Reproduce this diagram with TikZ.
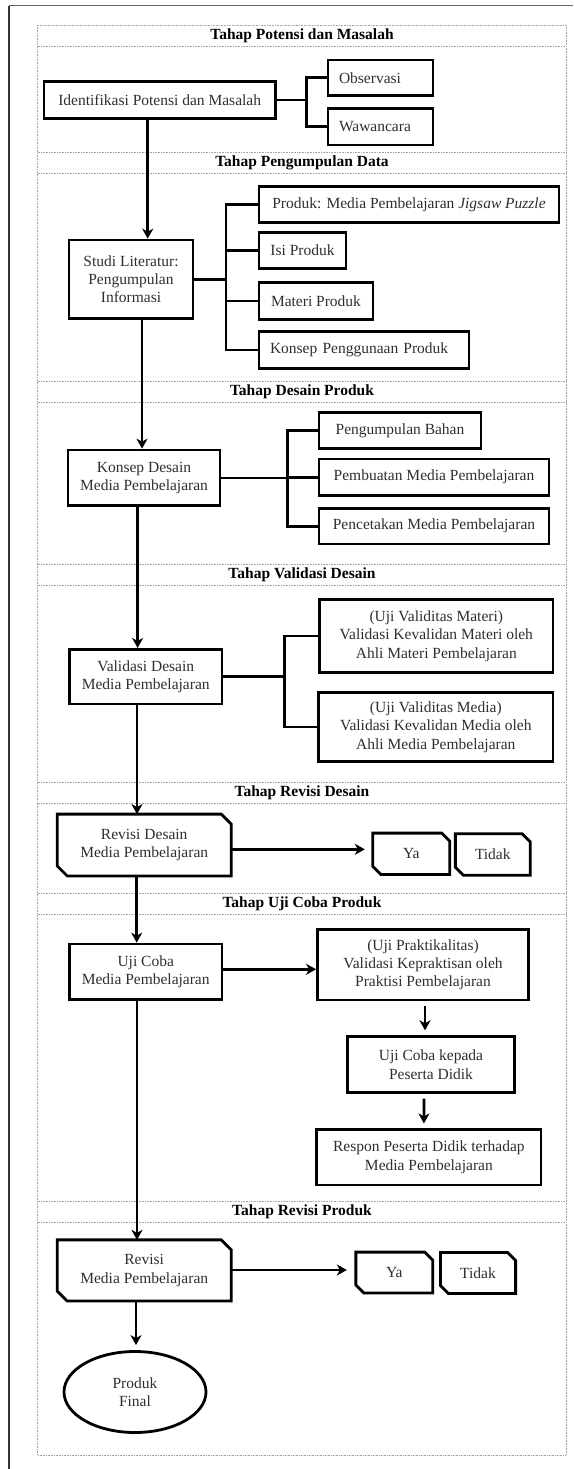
\documentclass[tikz,border=0pt]{standalone}
\usepackage{fontspec}
\setmainfont{Liberation Serif}
\usetikzlibrary{arrows.meta,calc,shapes.geometric}
\newcommand\bodysize{\fontsize{15.5}{18.3}\selectfont}
\newcommand\chamferbox[2]{%
  \draw[boxline] (#1.north west) -- ($(#1.north east)+(-#2,0)$) -- ($(#1.north east)+(0,#2)$)
    -- (#1.south east) -- ($(#1.south west)+(#2,0)$) -- ($(#1.south west)+(0,-#2)$) -- cycle;}
\tikzset{
  boxline/.style={line width=2.8pt, line join=miter},
  box/.style 2 args={draw, boxline, minimum width=#1, minimum height=#2, inner sep=0pt,
    align=center, font=\bodysize, text=black!82},
  leftbox/.style 2 args={draw, boxline, text width=#1-22pt, minimum height=#2, inner xsep=11pt,
    inner ysep=0pt, align=left, font=\bodysize, text=black!82},
  plainbox/.style 2 args={minimum width=#1, minimum height=#2, inner sep=0pt,
    align=center, font=\bodysize, text=black!82},
  conn/.style={line width=2.8pt, line join=miter},
  arr/.style={line width=2.8pt, -{Stealth[length=10pt,width=11pt,inset=3pt]}},
  hdr/.style={font=\bodysize\bfseries, text=black, inner sep=0pt},
  tbl/.style={draw=black!35, line width=0.9pt, dash pattern=on 1pt off 0.6pt},
}
\begin{document}
\begin{tikzpicture}[x=1pt,y=-1pt]
\useasboundingbox (0,0) rectangle (573,1469);
% outer frame
\draw[black!60, line width=1.3pt] (9,5.7) -- (573,5.7);
\draw[black!80, line width=1.2pt] (9,5.7) -- (9,1469);
% dotted table
\draw[tbl] (37.7,25) rectangle (566,1455);
\foreach \y in {46.5,152.5,173.5,381.5,402.5,564,585,782.5,803.5,893.5,914.5,1201,1222}
  \draw[tbl] (37.7,\y) -- (566,\y);
% headers
\node[hdr] (h1) at (302,36) {Tahap Potensi dan Masalah};
\node[hdr] (h2) at (302,163) {Tahap Pengumpulan Data};
\node[hdr] (h3) at (302,392) {Tahap Desain Produk};
\node[hdr] (h4) at (302,574.5) {Tahap Validasi Desain};
\node[hdr] (h5) at (302,793) {Tahap Revisi Desain};
\node[hdr] (h6) at (302,904) {Tahap Uji Coba Produk};
\node[hdr] (h7) at (302,1211.5) {Tahap Revisi Produk};

% stage 1
\node[box={231.5}{36.6}] (ident) at (159.7,100) {Identifikasi Potensi dan Masalah};
\node[leftbox={105}{35.7}] (obs) at (380.5,77.9) {Observasi};
\node[leftbox={105}{36.7}] (waw) at (380.5,126.7) {Wawancara};
\coordinate (b1) at (306.6,100);
\draw[conn] (ident.east) -- (b1);
\draw[conn] (obs.west) -| (b1) |- (waw.west);

% stage 2
\node[box={124}{78.3}] (studi) at (131,279.2) {Studi Literatur:\\Pengumpulan\\Informasi};
\node[box={300}{36}] (prod) at (409,204.7) {Produk: Media Pembelajaran \textit{Jigsaw Puzzle}};
\node[box={87}{35.6}] (isi) at (302.5,250.5) {Isi Produk};
\node[box={114}{36.6}] (materi) at (316,301) {Materi Produk};
\node[leftbox={210}{36.6}] (konsepP) at (364,350) {Konsep Penggunaan Produk};
\coordinate (b2) at (226,279.2);
\draw[conn] (studi.east) -- (b2);
\draw[conn] (prod.west) -| (b2) |- (konsepP.west);
\draw[conn] (isi.west) -- (isi.west -| b2);
\draw[conn] (materi.west) -- (materi.west -| b2);
\coordinate (a1) at ($(ident.south)+(-12,0)$);
\draw[arr] (a1) -- (a1 |- studi.north);

% stage 3
\node[box={152}{55.7}] (konsepD) at (144,477.9) {Konsep Desain\\Media Pembelajaran};
\node[box={162}{36}] (bahan) at (400,430.7) {Pengumpulan Bahan};
\node[box={230}{36.3}] (buat) at (434,477.2) {Pembuatan Media Pembelajaran};
\node[box={230}{35.7}] (cetak) at (434,526.2) {Pencetakan Media Pembelajaran};
\coordinate (b3) at (287.6,477.9);
\draw[conn] (konsepD.east) -- (b3);
\draw[conn] (bahan.west) -| (b3) |- (cetak.west);
\draw[conn] (buat.west) -- (buat.west -| b3);
\coordinate (a2) at ($(studi.south)+(11,0)$);
\draw[arr] (a2) -- (a2 |- konsepD.north);

% stage 4
\node[box={152.7}{54.7}] (valD) at (145.7,676.7) {Validasi Desain\\Media Pembelajaran};
\node[box={233.5}{73.4}] (vMat) at (436.3,636) {(Uji Validitas Materi)\\Validasi Kevalidan Materi oleh\\Ahli Materi Pembelajaran};
\node[box={234.4}{69.4}] (vMed) at (435.8,727) {(Uji Validitas Media)\\Validasi Kevalidan Media oleh\\Ahli Media Pembelajaran};
\coordinate (b4) at (284.7,676.7);
\draw[conn] (valD.east) -- (b4);
\draw[conn] (vMat.west) -| (b4) |- (vMed.west);
\coordinate (a3) at ($(konsepD.south)+(-6.4,0)$);
\draw[arr] (a3) -- (a3 |- valD.north);

% stage 5
\node[plainbox={173.7}{61.4}] (revD) at (144.2,845) {Revisi Desain\\Media Pembelajaran};
\chamferbox{revD}{10}
\node[plainbox={76.6}{41}] (ya1) at (411.3,853.8) {Ya};
\chamferbox{ya1}{8}
\node[plainbox={74.5}{41}] (tidak1) at (492.8,854.5) {Tidak};
\chamferbox{tidak1}{8}
\coordinate (r1) at ($(revD.east)+(0,4.3)$);
\draw[arr] (r1) -- ($(r1 -| ya1.west)+(-8,0)$);
\coordinate (a4) at ($(valD.south)+(-8.7,0)$);
\draw[arr] (a4) -- (a4 |- revD.north);

% stage 6
\node[box={152.7}{55.3}] (uji) at (145.7,971.7) {Uji Coba\\Media Pembelajaran};
\node[box={211}{70.7}] (prakt) at (423,964.7) {(Uji Praktikalitas)\\Validasi Kepraktisan oleh\\Praktisi Pembelajaran};
\node[box={167.2}{56}] (ujiK) at (431,1064.7) {Uji Coba kepada\\Peserta Didik};
\node[box={224.2}{55.7}] (respon) at (428.9,1157.2) {Respon Peserta Didik terhadap\\Media Pembelajaran};
\coordinate (r2) at ($(uji.east)+(0,-2.4)$);
\draw[arr] (r2) -- (r2 -| prakt.west);
\draw[arr] ($(prakt.south)+(2,5)$) -- ($(ujiK.north)+(-6,-5)$);
\draw[arr] ($(ujiK.south)+(-7,4.5)$) -- ($(respon.north)+(-5,-4.5)$);
\coordinate (a5) at ($(revD.south)+(-7.5,0)$);
\draw[arr] (a5) -- (a5 |- uji.north);

% stage 7
\node[plainbox={173.7}{60.7}] (revP) at (144.2,1270.4) {Revisi\\Media Pembelajaran};
\chamferbox{revP}{10}
\node[plainbox={76.5}{40.4}] (ya2) at (394.3,1272.5) {Ya};
\chamferbox{ya2}{8}
\node[plainbox={74.8}{40.6}] (tidak2) at (478,1273) {Tidak};
\chamferbox{tidak2}{8}
\coordinate (r3) at ($(revP.east)+(0,-0.4)$);
\draw[arr] (r3) -- ($(r3 -| ya2.west)+(-9,0)$);
\coordinate (a6) at ($(uji.south)+(-8.7,0)$);
\draw[arr] (a6) -- (a6 |- revP.north);
\node[ellipse, draw, boxline, minimum width=142, minimum height=81, inner sep=0pt,
  align=center, font=\bodysize, text=black!82] (final) at (135,1392) {Produk\\Final};
\coordinate (a7) at ($(revP.south)+(-8.2,0)$);
\draw[arr] (a7) -- ($(a7 |- final.north)+(0,-5)$);
\end{tikzpicture}
\end{document}
